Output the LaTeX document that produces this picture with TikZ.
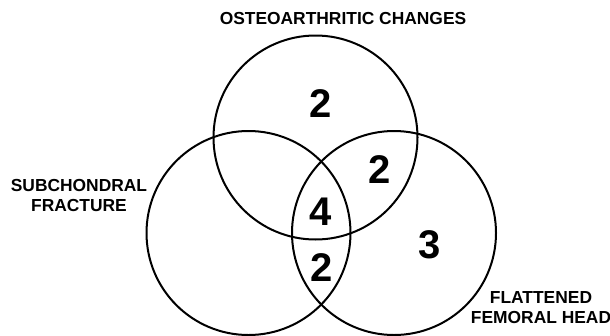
\documentclass[tikz,border=0pt]{standalone}
\usepackage{fontspec}
\setmainfont{Liberation Sans}
\begin{document}
\begin{tikzpicture}[x=1pt,y=-1pt,
  setc/.style={circle,draw=black,line width=2pt,minimum size=204pt,inner sep=0pt},
  lbl/.style={font=\fontsize{17.4}{20}\selectfont\bfseries,align=center,inner sep=0pt},
  num/.style={font=\fontsize{40}{40}\selectfont\bfseries,inner sep=0pt}]
\useasboundingbox (0,0) rectangle (610,335);
\node[setc] (oa) at (315.5,137.5) {};
\node[setc] (sf) at (248.5,233) {};
\node[setc] (fh) at (394,233) {};
\node[lbl] (toplbl) at (343,19) {OSTEOARTHRITIC CHANGES};
\node[lbl] (leftlbl) at (79,196) {SUBCHONDRAL\\FRACTURE};
\node[lbl] (rightlbl) at (541,308) {FLATTENED\\FEMORAL HEAD};
\node[num] (n1) at (321,104) {2};
\node[num] (n2) at (380,170) {2};
\node[num] (n3) at (321,212) {4};
\node[num] (n4) at (430,245) {3};
\node[num] (n5) at (322,268) {2};
\end{tikzpicture}
\end{document}
